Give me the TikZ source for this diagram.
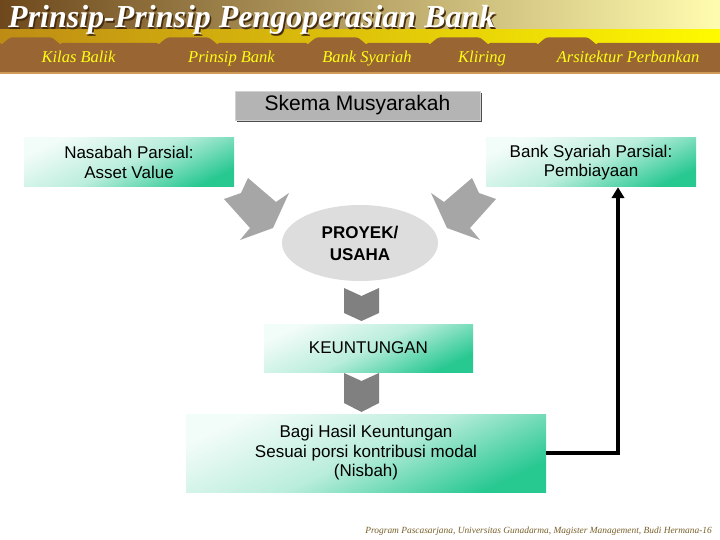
\documentclass[tikz,border=0pt]{standalone}
\usepackage{fontspec}
\setmainfont{Liberation Serif}
\newfontfamily\arial{Liberation Sans}
\usetikzlibrary{shapes.geometric,shadows,arrows.meta}

\definecolor{hdrdark}{RGB}{110,72,28}
\definecolor{hdrlight}{RGB}{255,252,175}
\definecolor{banddark}{RGB}{190,140,20}
\definecolor{bandlight}{RGB}{255,250,0}
\definecolor{tabbrown}{RGB}{153,102,51}
\definecolor{tabline}{RGB}{205,155,85}
\definecolor{tabtext}{RGB}{255,255,20}
\definecolor{boxgreen}{RGB}{40,200,145}
\definecolor{biggray}{RGB}{166,166,166}
\definecolor{downgray}{RGB}{128,128,128}
\definecolor{ellgray}{RGB}{221,221,221}
\definecolor{skemagray}{RGB}{180,180,180}
\definecolor{footbrown}{RGB}{120,95,40}
\definecolor{titleshade}{RGB}{70,45,15}

\tikzset{
    greenbox/.style={top color=boxgreen!6!white, bottom color=boxgreen, middle color=boxgreen!32!white,
        shading angle=25, align=center, inner sep=0pt,
        font=\arial\fontsize{17}{19.5}\selectfont},
    skemabox/.style={fill=skemagray, draw=gray!35, minimum width=245pt, minimum height=29pt,
        font=\arial\fontsize{21}{24}\selectfont,
        drop shadow={shadow xshift=2pt, shadow yshift=-2pt, fill=gray!60!black, opacity=1}},
    tablabel/.style={anchor=base, text=tabtext, font=\itshape\fontsize{16.5}{18}\selectfont}
}

\begin{document}
\begin{tikzpicture}[x=1pt,y=-1pt]
        \useasboundingbox (0,0) rectangle (720,540);
        \fill[white] (0,0) rectangle (720,540);

        \shade[left color=hdrdark, right color=hdrlight] (0,0) rectangle (720,32);
        \shade[left color=banddark, right color=bandlight] (0,30) rectangle (720,44);
        \node[anchor=base west, text=titleshade, inner sep=0pt, font=\bfseries\itshape\fontsize{32}{36}\selectfont] (titleshadow) at (9.5,29.5) {Prinsip-Prinsip Pengoperasian Bank};
        \node[anchor=base west, text=white, inner sep=0pt, font=\bfseries\itshape\fontsize{32}{36}\selectfont] (title) at (8,28) {Prinsip-Prinsip Pengoperasian Bank};

        \foreach \xa/\xb/\name/\label in {0/157/kilas/Kilas Balik, 157/306/prinsip/Prinsip Bank, 306/428/syariah/Bank Syariah, 428/536/kliring/Kliring, 536/720/arsitektur/Arsitektur Perbankan}
        {
            \fill[tabbrown] (\xa,72) -- (\xa,43) to[out=-80,in=180] (\xa+12,37.5) -- (\xa+50,37.5) to[out=0,in=-100] (\xa+62,43) -- (\xb,43) -- (\xb,72) -- cycle;
            \draw[tabline, line width=0.8pt] (\xb,43) -- (\xb,72);
            \node[tablabel] (\name) at ({(\xa+\xb)/2},63) {\label};
        }
        \fill[tabline] (0,72) rectangle (720,74);

        \node[skemabox] (skema) at (357.5,105.5) {Skema Musyarakah};

        \node[greenbox, minimum width=210pt, minimum height=49pt] (nasabah) at (129,162.5) {Nasabah Parsial:\\Asset Value};
        \node[greenbox, minimum width=210pt, minimum height=49pt] (bank) at (591,162.5) {Bank Syariah Parsial:\\Pembiayaan};

        \node[ellipse, fill=ellgray, minimum width=156pt, minimum height=76pt, align=center, font=\arial\bfseries\fontsize{17}{22}\selectfont] (proyek) at (360,243) {PROYEK/\\USAHA};

        \node[greenbox, minimum width=209pt, minimum height=48pt] (untung) at (368.5,348) {KEUNTUNGAN};
        \node[greenbox, minimum width=360pt, minimum height=78pt] (bagi) at (366,453) {Bagi Hasil Keuntungan\\Sesuai porsi kontribusi modal\\(Nisbah)};

        \foreach \s in {1,-1}
            \fill[biggray, shift={(360,0)}, xscale=\s] (-112,178) -- (-84,202) -- (-71,193) -- (-87,228) -- (-120,240) -- (-110,228) -- (-136,199) -- (-119,193) -- cycle;

        \foreach \y/\a/\b in {288/25/33, 373/30/39}
            \fill[downgray] (344,\y) -- (361.5,\y+8) -- (379,\y) -- (379,\y+\a) -- (361.5,\y+\b) -- (344,\y+\a) -- cycle;

        \coordinate (turn) at (618,453);
        \draw[line width=3.3pt, -{Triangle[length=11pt,width=12.5pt]}] (bagi.east) -- (turn) -- (turn |- bank.south);

        \node[anchor=base east, text=footbrown, inner sep=0pt, font=\itshape\fontsize{9.4}{10}\selectfont] (footer) at (712,533) {Program Pascasarjana, Universitas Gunadarma, Magister Management, Budi Hermana-16};
    \end{tikzpicture}
\end{document}
